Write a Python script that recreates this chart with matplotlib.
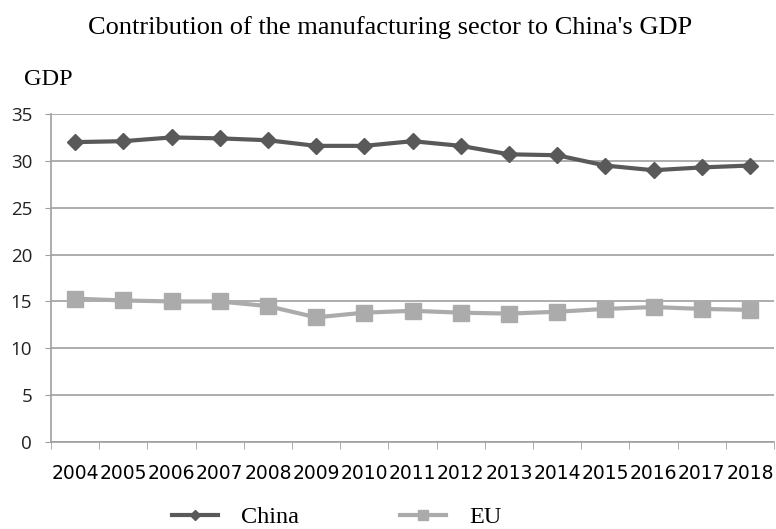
import numpy as np
import matplotlib
matplotlib.use("Agg")
import matplotlib.pyplot as plt
from matplotlib.ticker import FixedLocator

years = ["2004", "2005", "2006", "2007", "2008", "2009", "2010", "2011",
         "2012", "2013", "2014", "2015", "2016", "2017", "2018"]
china = [32.0, 32.1, 32.5, 32.4, 32.2, 31.6, 31.6, 32.1,
         31.6, 30.7, 30.6, 29.5, 29.0, 29.3, 29.5]
eu = [15.3, 15.1, 15.0, 15.0, 14.5, 13.3, 13.8, 14.0,
      13.8, 13.7, 13.9, 14.2, 14.4, 14.2, 14.1]

fig = plt.figure(figsize=(7.76, 5.29), dpi=100)
ax = fig.add_axes([51 / 776, 1 - 442 / 529, 723 / 776, 328 / 529])

x = np.arange(len(years))
ax.plot(x, china, color="#595959", lw=3, marker="D", ms=8.2, label="China", zorder=3)
ax.plot(x, eu, color="#ababab", lw=3, marker="s", ms=11.5, label="EU", zorder=3)

ax.set_xlim(-0.5, len(years) - 0.5)
ax.set_ylim(0, 35)
ax.set_yticks(range(0, 36, 5))
ax.grid(axis="y", color="#a0a0a0", lw=1.2)
ax.set_axisbelow(True)

ax.set_xticks(x)
ax.set_xticklabels(years, fontfamily="Liberation Sans Narrow", fontsize=13.5)
ax.xaxis.set_minor_locator(FixedLocator(np.arange(-0.5, len(years), 1)))
ax.tick_params(axis="x", which="major", length=0, pad=16)
ax.tick_params(axis="x", which="minor", length=5, color="#a0a0a0")
ax.tick_params(axis="y", length=4.5, color="#a0a0a0", labelsize=13.5, pad=9)
for lab in ax.get_yticklabels():
    lab.set_fontfamily("Open Sans")
    lab.set_color("#222222")

for s in ["top", "right"]:
    ax.spines[s].set_visible(False)
for s in ["left", "bottom"]:
    ax.spines[s].set_color("#a0a0a0")
    ax.spines[s].set_linewidth(1.2)

fig.text(390 / 776, 1 - 34 / 529, "Contribution of the manufacturing sector to China's GDP",
         ha="center", va="baseline", fontfamily="Liberation Serif", fontsize=19)
fig.text(24 / 776, 1 - 85 / 529, "GDP", ha="left", va="baseline",
         fontfamily="Liberation Serif", fontsize=17.5)

leg = fig.legend(loc="center", bbox_to_anchor=(337 / 776, 1 - 517 / 529), ncol=2,
                 frameon=False, prop={"family": "Liberation Serif", "size": 17.5},
                 handlelength=1.9, handletextpad=0.95, columnspacing=4.15,
                 markerscale=0.65)

fig.savefig("out.png", dpi=100)
